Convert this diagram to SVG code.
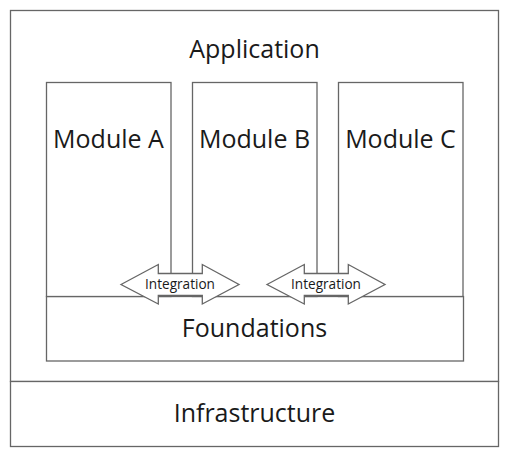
<svg xmlns="http://www.w3.org/2000/svg" width="519" height="467" viewBox="0 0 519 467">
<style>
.box{fill:#fff;stroke:#666;stroke-width:1.3}
.big{font-family:"Open Sans","Noto Sans",sans-serif;font-size:25px;fill:#1a1a1a;text-anchor:middle}
.small{font-family:"Open Sans","Noto Sans",sans-serif;font-size:13.6px;fill:#1a1a1a;text-anchor:middle}
</style>
<rect width="519" height="467" fill="#fff"/>
<g id="application">
<rect class="box" x="10.5" y="10.5" width="488" height="371"/>
<text class="big" x="254.5" y="58">Application</text>
</g>
<g id="infrastructure">
<rect class="box" x="10.5" y="381.5" width="488" height="65"/>
<text class="big" x="254.5" y="422">Infrastructure</text>
</g>
<g id="foundations">
<rect class="box" x="46.5" y="296.5" width="417" height="64.5"/>
<text class="big" x="254.5" y="336.5">Foundations</text>
</g>
<g id="module-a">
<rect class="box" x="46.5" y="82.5" width="124.5" height="214"/>
<text class="big" x="108.5" y="148">Module A</text>
</g>
<g id="module-b">
<rect class="box" x="192.5" y="82.5" width="124.5" height="214"/>
<text class="big" x="254.5" y="148">Module B</text>
</g>
<g id="module-c">
<rect class="box" x="338.5" y="82.5" width="124.5" height="214"/>
<text class="big" x="400.5" y="148">Module C</text>
</g>
<g id="connectors">
<g id="integration-1">
<path class="box" d="M121,284.5 L158.3,264.5 L158.3,273.5 L202.3,273.5 L202.3,264.5 L239,284.5 L202.3,304 L202.3,295.5 L158.3,295.5 L158.3,304 Z"/>
<text class="small" x="180" y="289">Integration</text>
</g>
<g id="integration-2">
<path class="box" d="M267,284.5 L304.3,264.5 L304.3,273.5 L348.3,273.5 L348.3,264.5 L385,284.5 L348.3,304 L348.3,295.5 L304.3,295.5 L304.3,304 Z"/>
<text class="small" x="326" y="289">Integration</text>
</g>
</g>
</svg>
